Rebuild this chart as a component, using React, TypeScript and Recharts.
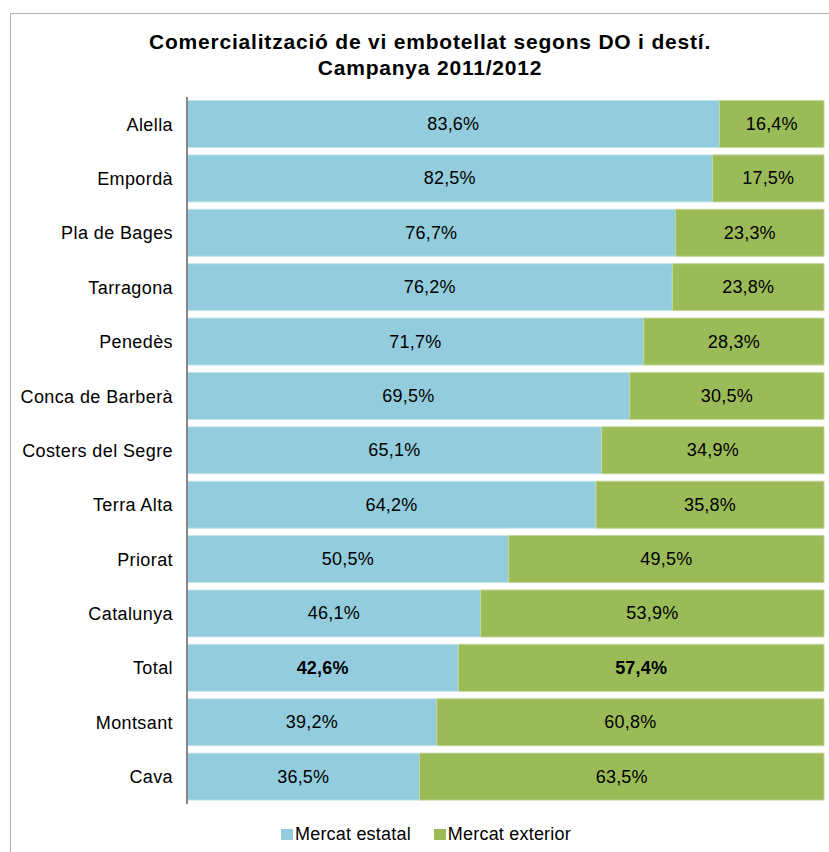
import React from 'react';
import { BarChart, Bar, XAxis, YAxis, LabelList } from 'recharts';

const categories = ['Alella', 'Empordà', 'Pla de Bages', 'Tarragona', 'Penedès', 'Conca de Barberà', 'Costers del Segre', 'Terra Alta', 'Priorat', 'Catalunya', 'Total', 'Montsant', 'Cava'];
const estatal = [83.6, 82.5, 76.7, 76.2, 71.7, 69.5, 65.1, 64.2, 50.5, 46.1, 42.6, 39.2, 36.5];
const exterior = [16.4, 17.5, 23.3, 23.8, 28.3, 30.5, 34.9, 35.8, 49.5, 53.9, 57.4, 60.8, 63.5];
const seriesNames = ['Mercat estatal', 'Mercat exterior'];

const data = categories.map((c, i) => ({ name: c, estatal: estatal[i], exterior: exterior[i] }));

const FONT = '"Liberation Sans", Arial, sans-serif';
const BLUE = '#93CDDD';
const GREEN = '#9BBB59';

const fmt = (v: number) => v.toFixed(1).replace('.', ',') + '%';

const makeLabel = (props: any) => {
  const { x, y, width, height, value, index } = props;
  const bold = categories[index] === 'Total';
  return (
    <text x={x + width / 2} y={y + height / 2} textAnchor="middle" dominantBaseline="central"
      fontFamily={FONT} fontSize={18} letterSpacing={0.2} fontWeight={bold ? 'bold' : 'normal'} fill="#000">
      {fmt(value)}
    </text>
  );
};

export default function App() {
  return (
    <div style={{ position: 'absolute', left: 0, top: 0, width: 829, height: 852, background: '#fff', overflow: 'hidden' }}>
      <div style={{ position: 'absolute', left: 10, top: 13, width: 900, height: 900, border: '1px solid #b0b0b0', boxSizing: 'border-box' }} />
      <div style={{ position: 'absolute', left: 0, top: 29, width: 860, textAlign: 'center', fontFamily: FONT, fontWeight: 'bold', fontSize: 21, letterSpacing: 0.8, lineHeight: '26px', color: '#000' }}>
        Comercialització de vi embotellat segons DO i destí.<br />Campanya 2011/2012
      </div>
      <div style={{ position: 'absolute', left: 0, top: 0 }}>
        <BarChart width={829} height={852} data={data} layout="vertical" barCategoryGap={3.5}
          margin={{ top: 97, bottom: 48, left: 10, right: 5 }}>
          <XAxis type="number" domain={[0, 100]} hide />
          <YAxis type="category" dataKey="name" width={177} tickSize={0} tickMargin={14}
            axisLine={{ stroke: '#868686', strokeWidth: 2 }} tickLine={false}
            tick={{ fontFamily: FONT, fontSize: 18, letterSpacing: 0.4, fill: '#000' }} />
          <Bar dataKey="estatal" name={seriesNames[0]} stackId="a" fill={BLUE} stroke="#C6E4EC" strokeWidth={1} isAnimationActive={false}>
            <LabelList dataKey="estatal" content={makeLabel} />
          </Bar>
          <Bar dataKey="exterior" name={seriesNames[1]} stackId="a" fill={GREEN} stroke="#C3D69B" strokeWidth={1} isAnimationActive={false}>
            <LabelList dataKey="exterior" content={makeLabel} />
          </Bar>
        </BarChart>
      </div>
      <div style={{ position: 'absolute', left: 281, top: 823, height: 22, display: 'flex', alignItems: 'center', fontFamily: FONT, fontSize: 18, letterSpacing: 0.2, color: '#000', whiteSpace: 'nowrap' }}>
        <span style={{ display: 'inline-block', width: 12, height: 11, background: BLUE, marginRight: 2 }} />
        <span style={{ marginRight: 23 }}>{seriesNames[0]}</span>
        <span style={{ display: 'inline-block', width: 12, height: 11, background: GREEN, marginRight: 2 }} />
        <span>{seriesNames[1]}</span>
      </div>
    </div>
  );
}
